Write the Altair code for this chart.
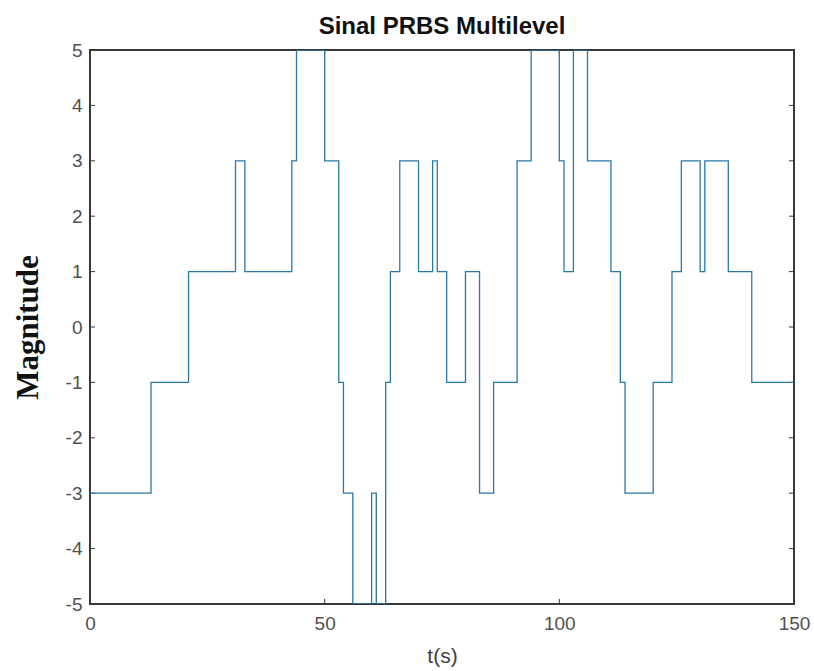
import altair as alt
import pandas as pd

# Step change instants (s) and the level held from each instant on
t_values = [0, 13, 21, 31, 33, 43, 44, 50, 53, 54, 56, 60, 61, 63, 64, 66, 70, 73,
            74, 76, 80, 83, 86, 91, 94, 100, 101, 103, 106, 111, 113, 114, 120,
            124, 126, 130, 131, 136, 141, 150]
levels = [-3, -1, 1, 3, 1, 3, 5, 3, -1, -3, -5, -3, -5, -1, 1, 3, 1, 3,
          1, -1, 1, -3, -1, 3, 5, 3, 1, 5, 3, 1, -1, -3, -1,
          1, 3, 1, 3, 1, -1, -1]
x_ticks = [0, 50, 100, 150]
y_ticks = [-5, -4, -3, -2, -1, 0, 1, 2, 3, 4, 5]

W, H = 704, 554
TICK = 5
FRAME = "#3a3a3a"
LINE = "#2a78a8"

df = pd.DataFrame({"t": t_values, "v": levels})
xt = pd.DataFrame({"x": x_ticks})
yt = pd.DataFrame({"y": y_ticks})

xscale = alt.Scale(domain=[0, 150], nice=False, zero=False)
yscale = alt.Scale(domain=[-5, 5], nice=False, zero=False)

frame = alt.Chart(df).mark_rect(fill=None, stroke=FRAME, strokeWidth=1.5).encode(
    x=alt.value(0), x2=alt.value(W), y=alt.value(0), y2=alt.value(H))

line = alt.Chart(df).mark_line(
    interpolate="step-after", color=LINE, strokeWidth=1.3, clip=True
).encode(
    x=alt.X("t:Q", scale=xscale, title="t(s)",
            axis=alt.Axis(values=x_ticks, labelExpr="'' + datum.value",
                          tickSize=0, domain=False, labelFlush=False,
                          grid=False, labelFontSize=19, labelColor="#505050",
                          labelFont="Liberation Sans", labelPadding=10,
                          titleFont="Liberation Sans", titleFontSize=21,
                          titleFontWeight="normal", titleColor="#404040",
                          titlePadding=12)),
    y=alt.Y("v:Q", scale=yscale, title="Magnitude",
            axis=alt.Axis(values=y_ticks, labelExpr="'' + datum.value",
                          tickSize=0, domain=False, labelFlush=False,
                          grid=False, labelFontSize=19, labelColor="#505050",
                          labelFont="Liberation Sans", labelPadding=8,
                          titleFont="Liberation Serif", titleFontSize=31,
                          titleFontWeight="bold", titleColor="#111111",
                          titlePadding=21)),
)

left_ticks = alt.Chart(yt).mark_rule(color=FRAME, strokeWidth=1).encode(
    y=alt.Y("y:Q", scale=yscale), x=alt.value(0), x2=alt.value(TICK))
right_ticks = alt.Chart(yt).mark_rule(color=FRAME, strokeWidth=1).encode(
    y=alt.Y("y:Q", scale=yscale), x=alt.value(W - TICK), x2=alt.value(W))
bottom_ticks = alt.Chart(xt).mark_rule(color=FRAME, strokeWidth=1).encode(
    x=alt.X("x:Q", scale=xscale), y=alt.value(H - TICK), y2=alt.value(H))
top_ticks = alt.Chart(xt).mark_rule(color=FRAME, strokeWidth=1).encode(
    x=alt.X("x:Q", scale=xscale), y=alt.value(0), y2=alt.value(TICK))

chart = alt.layer(frame, left_ticks, right_ticks, bottom_ticks, top_ticks, line).properties(
    width=W, height=H,
    title=alt.TitleParams("Sinal PRBS Multilevel", font="Liberation Sans",
                          fontSize=24, fontWeight="bold", color="#111111",
                          anchor="middle", offset=2),
    autosize=alt.AutoSizeParams(type="none"),
    padding={"left": 90, "top": 50, "right": 20, "bottom": 67},
).configure_view(stroke=None).configure(background="white")

chart.save("out.html", embed_options={"renderer": "svg", "actions": False})
